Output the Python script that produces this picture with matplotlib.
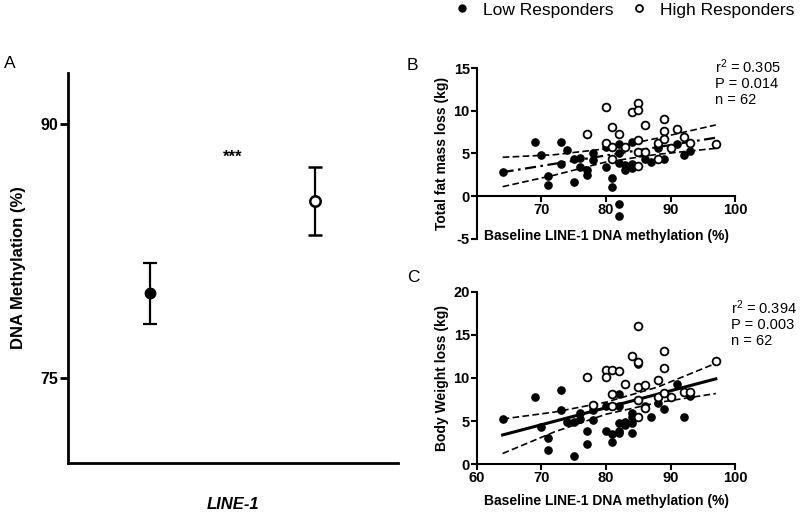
import numpy as np
import matplotlib.pyplot as plt

plt.rcParams['font.family'] = ['Liberation Sans', 'DejaVu Sans']
plt.rcParams['axes.unicode_minus'] = False

# ---- data ----
# A: LINE-1 methylation, mean and error per group
a_pos = [1, 3]
a_mean = [80.0, 85.45]
a_err = [1.8, 2.0]

# B: total fat mass loss vs baseline LINE-1 methylation
b_low_x = [64, 69, 70, 71, 71, 73, 73, 74, 75, 75, 76, 76, 77, 77, 78, 78, 80, 80, 81, 81,
           82, 82, 82, 82, 82, 83, 83, 84, 84, 84, 86, 87, 88, 88, 89, 91, 92, 93]
b_low_y = [2.8, 6.3, 4.8, 2.3, 1.3, 6.4, 3.8, 5.4, 4.4, 1.6, 4.5, 3.45, 3.1, 2.5, 5.0, 4.2, 3.45, 5.8, 2.1, 1.1,
           -0.9, -2.4, 6.1, 5.0, 3.9, 3.6, 3.1, 3.8, 3.25, 6.4, 4.4, 4.0, 6.0, 5.6, 4.4, 6.1, 4.8, 5.3]
b_high_x = [77, 80, 80, 81, 81, 81, 82, 83, 84, 85, 85, 85, 85, 85, 86, 86, 88, 88, 89, 89,
            89, 90, 91, 92, 93, 97]
b_high_y = [7.3, 10.4, 6.2, 8.1, 5.7, 4.3, 7.3, 5.8, 9.9, 10.9, 10.1, 6.6, 5.2, 3.5, 8.3, 5.2, 4.4, 6.2, 9.0, 7.6,
            6.7, 5.6, 7.9, 6.9, 6.2, 6.1]
b_fit_x = [64, 97]
b_fit_y = [2.8, 6.85]
band_x = [64, 72, 80, 88, 97]
b_upper = [4.55, 4.85, 5.55, 6.8, 8.35]
b_lower = [1.1, 2.45, 4.0, 4.9, 5.6]
b_stats = ['r$^{2}$ = 0.305', 'P = 0.014', 'n = 62']

# C: body weight loss vs baseline LINE-1 methylation
c_low_x = [64, 69, 70, 71, 71, 73, 73, 74, 75, 75, 76, 76, 77, 77, 78, 78, 80, 80, 81, 81,
           82, 82, 82, 82, 82, 83, 83, 84, 84, 84, 84, 85, 86, 87, 88, 89, 91, 92, 93]
c_low_y = [5.25, 7.75, 4.35, 3.1, 1.6, 8.6, 6.3, 4.9, 4.9, 0.95, 5.9, 5.3, 3.85, 2.4, 5.1, 6.3, 3.85, 6.7, 3.5, 2.6,
           8.2, 6.7, 4.8, 3.9, 3.6, 4.9, 4.55, 6.0, 5.5, 4.75, 3.65, 11.6, 6.7, 5.5, 7.1, 6.35, 9.25, 5.5, 7.9]
c_high_x = [77, 78, 80, 80, 81, 81, 81, 82, 83, 84, 85, 85, 85, 85, 85, 86, 86, 88, 88, 89,
            89, 89, 90, 92, 93, 97]
c_high_y = [10.15, 6.85, 10.9, 10.15, 10.9, 8.15, 6.7, 10.85, 9.25, 12.6, 16.0, 11.9, 9.0, 7.45, 5.5, 9.2, 6.5, 9.75, 7.85, 13.1,
            11.2, 8.3, 7.85, 8.35, 8.4, 11.95]
c_fit_x = [64, 97]
c_fit_y = [3.4, 9.9]
c_upper = [5.25, 6.05, 7.2, 8.95, 11.7]
c_lower = [1.25, 3.75, 5.8, 7.15, 8.2]
c_stats = ['r$^{2}$ = 0.394', 'P = 0.003', 'n = 62']

plt.rcParams['mathtext.fontset'] = 'custom'
plt.rcParams['mathtext.rm'] = 'Liberation Sans'
plt.rcParams['mathtext.it'] = 'Liberation Sans'
plt.rcParams['mathtext.default'] = 'regular'

fig = plt.figure(figsize=(8, 5.14), dpi=100)

# ---- panel A ----
axA = fig.add_axes([0.0846, 0.0998, 0.4129, 0.7576])
axA.errorbar(a_pos[0], a_mean[0], yerr=a_err[0], fmt='o', color='black', ms=7.5,
             elinewidth=1.6, capsize=5, capthick=1.6)
axA.errorbar(a_pos[1], a_mean[1], yerr=a_err[1], fmt='o', color='black', mfc='white', mec='black',
             mew=1.8, ms=7.5, elinewidth=1.6, capsize=5, capthick=1.6)
axA.text(2, 88.06, '***', ha='center', va='center', fontsize=12, fontweight='bold')
axA.set_xlim(0, 4)
axA.set_ylim(70, 93)
axA.set_yticks([75, 90])
axA.set_xticks([])
axA.spines[['top', 'right']].set_visible(False)
axA.spines[['left', 'bottom']].set_linewidth(2.0)
axA.tick_params(axis='y', length=6, width=2.0, labelsize=11.5, pad=1)
for lab in axA.get_yticklabels():
    lab.set_fontweight('bold')
axA.set_ylabel('DNA Methylation (%)', fontsize=12, fontweight='bold', labelpad=10)
axA.set_xlabel('LINE-1', fontsize=12, fontweight='bold', style='italic', labelpad=25)


def scatter_panel(ax, lx, ly, hx, hy, fit_x, fit_y, up, lo, fit_style):
    ax.plot(fit_x, fit_y, color='black', lw=fit_style[1], linestyle=fit_style[0], zorder=2)
    ax.plot(band_x, up, color='black', lw=1.2, linestyle=(0, (4, 2)), zorder=2)
    ax.plot(band_x, lo, color='black', lw=1.2, linestyle=(0, (4, 2)), zorder=2)
    ax.plot(lx, ly, 'o', color='black', ms=5.2, zorder=3)
    ax.plot(hx, hy, 'o', mfc='white', mec='black', mew=1.3, ms=5.6, zorder=4)
    ax.set_xlim(60, 100)
    ax.spines[['top', 'right']].set_visible(False)
    ax.spines[['left', 'bottom']].set_linewidth(1.5)
    ax.tick_params(length=4, width=1.5, labelsize=10.5, pad=1)
    for lab in ax.get_xticklabels() + ax.get_yticklabels():
        lab.set_fontweight('bold')
    ax.set_xlabel('Baseline LINE-1 DNA methylation (%)', fontsize=10, fontweight='bold', labelpad=2)


# ---- panel B ----
axB = fig.add_axes([0.596, 0.5358, 0.323, 0.3313])
axB.set_xticks([70, 80, 90, 100])
axB.set_ylim(-5, 15)
axB.set_yticks([-5, 0, 5, 10, 15])
axB.spines['bottom'].set_position(('data', 0))
scatter_panel(axB, b_low_x, b_low_y, b_high_x, b_high_y, b_fit_x, b_fit_y, b_upper, b_lower,
              ((0, (5, 2, 1.2, 2)), 1.6))
axB.set_ylabel('Total fat mass loss (kg)', fontsize=10, fontweight='bold', labelpad=3)
axB.xaxis.labelpad = 9

# ---- panel C ----
axC = fig.add_axes([0.596, 0.0967, 0.323, 0.3358])
axC.set_xticks([60, 70, 80, 90, 100])
axC.set_ylim(0, 20)
axC.set_yticks([0, 5, 10, 15, 20])
scatter_panel(axC, c_low_x, c_low_y, c_high_x, c_high_y, c_fit_x, c_fit_y, c_upper, c_lower,
              ('-', 2.2))
axC.set_ylabel('Body Weight loss (kg)', fontsize=10, fontweight='bold', labelpad=3)
axC.xaxis.labelpad = 6

# stats text
fig.text(715 / 800, 1 - 57 / 514, '\n'.join(b_stats), fontsize=10.5, va='top', ha='left', linespacing=1.15)
fig.text(731 / 800, 1 - 298 / 514, '\n'.join(c_stats), fontsize=10.5, va='top', ha='left', linespacing=1.15)

# panel letters
fig.text(4 / 800, 1 - 64 / 514, 'A', fontsize=12.5, va='center')
fig.text(407 / 800, 1 - 65 / 514, 'B', fontsize=12.5, va='center')
fig.text(407 / 800, 1 - 277 / 514, 'C', fontsize=12.5, va='center')

# legend
h_low, = plt.plot([], [], 'o', color='black', ms=5)
h_high, = plt.plot([], [], 'o', mfc='white', mec='black', mew=1.3, ms=5)
fig.legend([h_low, h_high], ['Low Responders', 'High Responders'], loc='center',
           bbox_to_anchor=(624 / 800, 1 - 10 / 514), ncol=2, frameon=False, fontsize=12.5,
           handletextpad=0.7, columnspacing=1.0, handlelength=1.0)

fig.savefig('out.png', dpi=100)
